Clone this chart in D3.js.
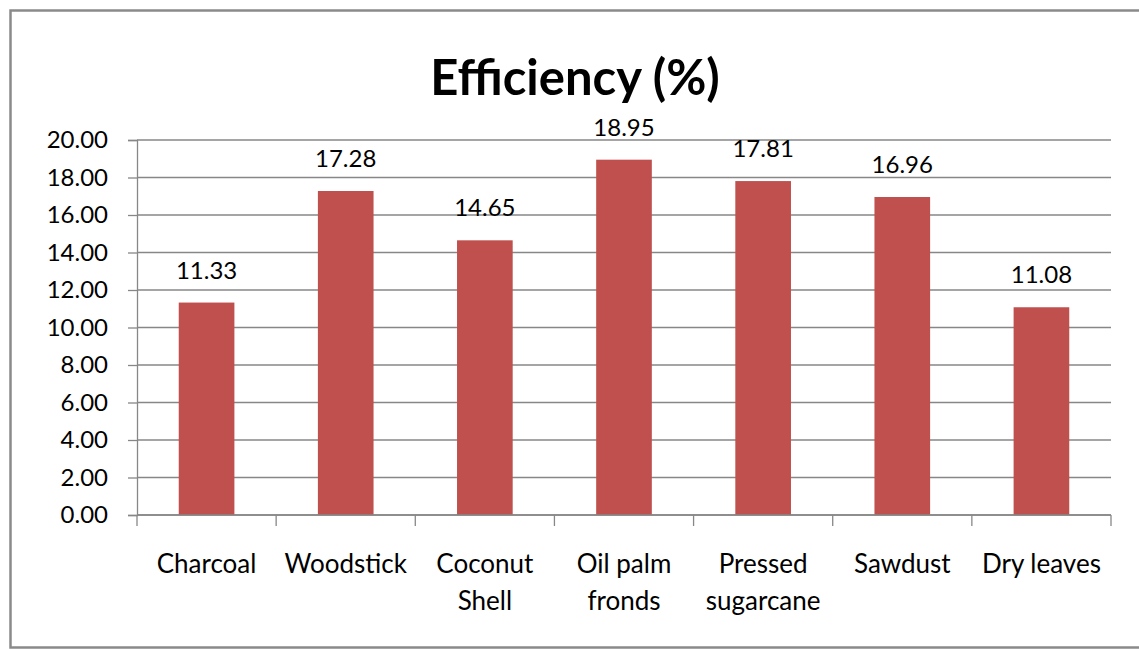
<!DOCTYPE html>
<html>
<head>
<meta charset="utf-8">
<script src="https://cdn.jsdelivr.net/npm/d3@7/dist/d3.min.js"></script>
<style>
  html, body { margin: 0; padding: 0; background: #fff; }
  svg { display: block; font-family: Lato, "Open Sans", sans-serif; }
</style>
</head>
<body>
<svg id="chart" width="1139" height="649"></svg>
<script>
// Fuel efficiency per biomass type
const categories = [
  ["Charcoal"],
  ["Woodstick"],
  ["Coconut", "Shell"],
  ["Oil palm", "fronds"],
  ["Pressed", "sugarcane"],
  ["Sawdust"],
  ["Dry leaves"]
];
const values = [11.33, 17.28, 14.65, 18.95, 17.81, 16.96, 11.08];
const yTicks = [0, 2, 4, 6, 8, 10, 12, 14, 16, 18, 20];
const titleText = "Efficiency (%)";

const svg = d3.select("#chart");

// outer chart border
svg.append("rect")
  .attr("x", 10.5).attr("y", 10.5)
  .attr("width", 1140).attr("height", 637)
  .attr("fill", "#fff")
  .attr("stroke", "#8a8a8a")
  .attr("stroke-width", 2.5);

const plot = { left: 137, right: 1111, top: 140, bottom: 515 };

const x = d3.scaleBand()
  .domain(categories.map((d, i) => i))
  .range([plot.left, plot.right])
  .paddingInner(0.6)
  .paddingOuter(0.3);

const y = d3.scaleLinear()
  .domain([0, 20])
  .range([plot.bottom, plot.top]);

// horizontal gridlines
svg.append("g")
  .selectAll("line")
  .data(yTicks)
  .join("line")
  .attr("x1", plot.left).attr("x2", plot.right)
  .attr("y1", d => y(d)).attr("y2", d => y(d))
  .attr("stroke", "#878787")
  .attr("stroke-width", 1.3);

// y axis
const yAxis = svg.append("g")
  .attr("transform", `translate(${plot.left},0)`)
  .call(d3.axisLeft(y).tickValues(yTicks).tickFormat(d3.format(".2f")).tickSize(9).tickPadding(20));
yAxis.select(".domain").attr("stroke", "#878787").attr("stroke-width", 1.3);
yAxis.selectAll(".tick line").attr("stroke", "#878787").attr("stroke-width", 1.3);
yAxis.selectAll(".tick text")
  .attr("font-size", 24)
  .attr("fill", "#000")
  .attr("font-family", "Lato, sans-serif");

// bars
svg.append("g")
  .selectAll("rect")
  .data(values)
  .join("rect")
  .attr("x", (d, i) => x(i))
  .attr("y", d => y(d))
  .attr("width", x.bandwidth())
  .attr("height", d => y(0) - y(d))
  .attr("fill", "#C0504D");

// x axis with category boundary ticks
const step = x.step();
const boundaries = d3.range(categories.length + 1).map(i => plot.left + i * step);
svg.append("line")
  .attr("x1", plot.left).attr("x2", plot.right)
  .attr("y1", plot.bottom).attr("y2", plot.bottom)
  .attr("stroke", "#878787").attr("stroke-width", 1.3);
svg.append("g")
  .selectAll("line")
  .data(boundaries)
  .join("line")
  .attr("x1", d => d).attr("x2", d => d)
  .attr("y1", plot.bottom).attr("y2", plot.bottom + 11)
  .attr("stroke", "#878787").attr("stroke-width", 1.3);

// category labels
const catLabels = svg.append("g")
  .selectAll("text")
  .data(categories)
  .join("text")
  .attr("x", (d, i) => x(i) + x.bandwidth() / 2)
  .attr("y", 573)
  .attr("text-anchor", "middle")
  .attr("font-size", 26)
  .attr("fill", "#000");
catLabels.selectAll("tspan")
  .data(d => d)
  .join("tspan")
  .attr("x", function() { return d3.select(this.parentNode).attr("x"); })
  .attr("dy", (d, i) => i === 0 ? 0 : 37)
  .text(d => d);

// value labels
svg.append("g")
  .selectAll("text")
  .data(values)
  .join("text")
  .attr("x", (d, i) => x(i) + x.bandwidth() / 2)
  .attr("y", d => y(d) - 24)
  .attr("text-anchor", "middle")
  .attr("font-size", 24)
  .attr("fill", "#000")
  .text(d => d3.format(".2f")(d));

// title
svg.append("text")
  .attr("x", 575)
  .attr("y", 95)
  .attr("text-anchor", "middle")
  .attr("font-size", 49)
  .attr("font-weight", "bold")
  .attr("fill", "#000")
  .text(titleText);
</script>
</body>
</html>
